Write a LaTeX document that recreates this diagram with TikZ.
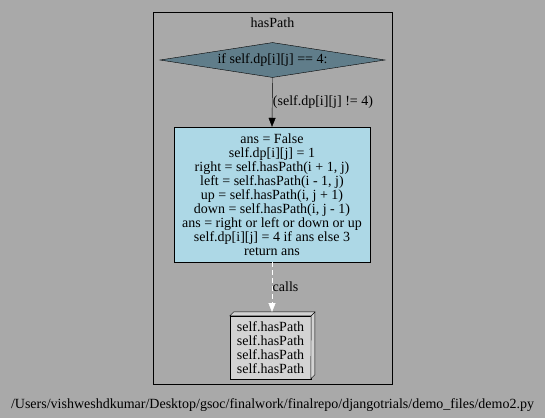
\documentclass[tikz,border=0pt]{standalone}
\usepackage{fontspec}
\setmainfont{Liberation Serif}
\usetikzlibrary{shapes.geometric,arrows.meta}
\definecolor{bggray}{HTML}{A9A9A9}
\definecolor{slatefill}{HTML}{607D8A}
\definecolor{boxblue}{HTML}{ADD8E6}
\definecolor{boxgray}{HTML}{D3D3D3}
\tikzset{
  txt/.style={font=\fontsize{14}{14}\selectfont, inner sep=0pt, align=center},
  decision/.style={diamond, draw=black, fill=slatefill, inner sep=0pt, aspect=6.4,
    minimum width=225pt, minimum height=35pt, txt},
  codebox/.style={rectangle, draw=black, fill=boxblue, minimum width=196pt,
    minimum height=135pt, txt},
  callbox/.style={rectangle, draw=black, fill=boxgray, minimum width=81pt,
    minimum height=63pt, txt},
  flow/.style={draw=black, -{Triangle[length=9pt,width=7pt]}},
  callflow/.style={draw=white, dashed, dash pattern=on 5pt off 3pt, -{Triangle[length=9pt,width=7pt,fill=white]}},
}
\begin{document}
\begin{tikzpicture}[x=1pt,y=-1pt]
\fill[bggray] (0,0) rectangle (545,418);
\useasboundingbox (0,0) rectangle (545,418);
\node[draw=black, rectangle, minimum width=239.5pt, minimum height=372pt, inner sep=0pt] (cluster) at (272.5,198) {};
\node[txt] (title) at (272.5,23) {hasPath};
\node[decision] (cond) at (272.5,60) {if self.dp[i][j] == 4:};
\node[codebox] (body) at (272,194.5) {ans = False\\self.dp[i][j] = 1\\right = self.hasPath(i + 1, j)\\left = self.hasPath(i - 1, j)\\up = self.hasPath(i, j + 1)\\down = self.hasPath(i, j - 1)\\ans = right or left or down or up\\self.dp[i][j] = 4 if ans else 3\\return ans};
\node[callbox] (calls) at (270.5,347.5) {self.hasPath\\self.hasPath\\self.hasPath\\self.hasPath};
\draw[fill=boxgray] (calls.north west) -- ++(4,-4) -- ++(81,0) -- ++(0,63) -- ++(-4,4) -- (calls.north east) -- cycle;
\draw (calls.north east) -- ++(4,-4);
\draw[flow] (cond.south) -- (body.north) node[txt, midway, right=0.5pt] {(self.dp[i][j] != 4)};
\coordinate (callend) at (272,312);
\draw[callflow] (body.south) -- (callend) node[txt, midway, right=0.5pt] {calls};
\node[txt] (path) at (272.5,405) {/Users/vishweshdkumar/Desktop/gsoc/finalwork/finalrepo/djangotrials/demo\_files/demo2.py};
\end{tikzpicture}
\end{document}
